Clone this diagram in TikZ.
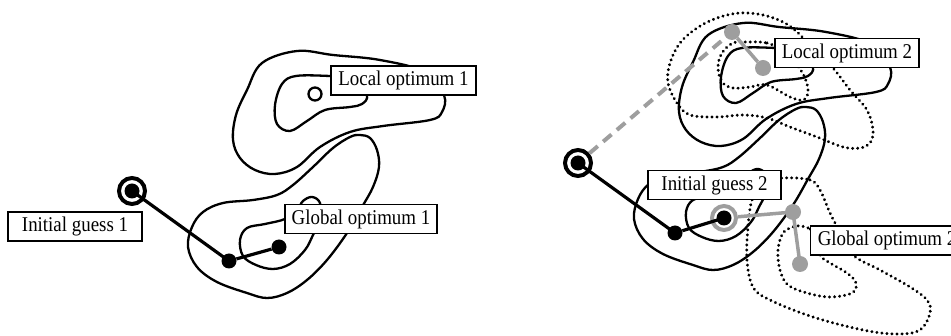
\documentclass[tikz,border=0pt]{standalone}
\usepackage{fontspec}
\setmainfont{Liberation Serif}[FakeStretch=0.9]
\definecolor{lg}{RGB}{158,158,158}
\begin{document}
\begin{tikzpicture}[x=1pt,y=-1pt,
  contour/.style={line width=2.3pt, line join=round},
  dotc/.style={line width=3.2pt, line cap=round, dash pattern=on 0.05pt off 5pt},
  lbl/.style={draw, line width=1.1pt, fill=white, inner sep=0pt, minimum height=29pt, font=\fontsize{21}{24}\selectfont},
  bdot/.style={circle, fill=black, inner sep=0pt, minimum size=15pt},
  gdot/.style={circle, fill=lg, inner sep=0pt, minimum size=16pt},
  ringb/.style={circle, draw=black, line width=4pt, inner sep=0pt, minimum size=26pt},
  ringg/.style={circle, draw=lg, line width=4pt, inner sep=0pt, minimum size=24pt},
  hollow/.style={circle, draw=black, fill=white, line width=2.3pt, inner sep=0pt, minimum size=13pt},
  conn/.style={line width=3.2pt},
  gconn/.style={line width=3.5pt, draw=lg},
  dconn/.style={line width=4pt, draw=lg, dash pattern=on 11pt off 7pt}
]
\clip (0,0) rectangle (951,336);
\useasboundingbox (0,0) rectangle (951,336);

% ---------- solid contours (left, then shifted copy on the right)
\foreach \sx/\sy in {0/0, 446/-28}{
\begin{scope}[shift={(\sx,\sy)}]
\draw[contour] plot[smooth cycle, tension=0.6] coordinates {
 (297,51) (333,55) (380,60) (425,72) (444,95) (442,112) (430,120) (383,126)
 (350,132) (320,147) (297,167) (275,174) (255,170) (240,158) (233,140)
 (236,115) (247,90) (262,63)};
\draw[contour] plot[smooth cycle, tension=0.6] coordinates {
 (330,76) (296,76) (282,84) (275,105) (277,124) (290,131) (307,121) (325,110)
 (350,107) (362,104) (367,95) (355,78)};
\draw[contour] plot[smooth cycle, tension=0.6] coordinates {
 (360,135) (370,138) (377,150) (379,167) (373,187) (362,207) (347,233)
 (327,260) (307,280) (287,293) (267,298) (247,293) (217,282) (197,267)
 (188,247) (192,227) (203,212) (223,203) (253,200) (277,195) (293,185)
 (313,167) (333,148) (350,137)};
\draw[contour] plot[smooth cycle, tension=0.6] coordinates {
 (303,201) (312,197) (320,203) (320,220) (313,235) (305,250) (290,264)
 (273,269) (256,265) (243,256) (240,240) (247,228) (265,224) (285,219) (297,210)};
\end{scope}}

% ---------- dotted contours (right)
\draw[dotc] plot[smooth cycle, tension=0.6] coordinates {
 (740,13) (763,15) (783,22) (797,32) (815,50) (833,68) (850,90) (867,110)
 (873,130) (870,143) (860,148) (843,147) (817,137) (790,127) (767,118)
 (743,115) (717,117) (690,115) (677,103) (668,83) (670,63) (680,43) (697,28) (717,18)};
\draw[dotc] plot[smooth cycle, tension=0.6] coordinates {
 (747,42) (767,43) (785,52) (797,65) (805,78) (808,92) (803,100) (790,97)
 (767,85) (750,87) (733,88) (722,82) (718,67) (722,53) (733,43)};
\draw[dotc] plot[smooth cycle, tension=0.6] coordinates {
 (783,178) (810,180) (820,190) (830,213) (840,232) (853,255) (880,270)
 (910,287) (927,300) (930,313) (920,330) (897,334) (863,330) (813,317)
 (770,300) (753,287) (747,260) (748,227) (752,200) (762,183)};
\draw[dotc] plot[smooth cycle, tension=0.6] coordinates {
 (800,226) (810,229) (820,240) (820,255) (830,263) (847,273) (856,283)
 (852,293) (830,297) (807,293) (788,285) (780,270) (778,250) (783,233) (793,227)};

% ---------- left panel points
\node[ringb] (i1) at (132,191) {};
\node[bdot] (i1c) at (132,191) {};
\node[bdot] (d1) at (229,261) {};
\node[bdot] (d2) at (279,247) {};
\node[hollow] (lo1) at (315,94) {};
\draw[conn] (i1c.center) -- (d1.center);
\draw[conn] (d1) -- (d2);

% ---------- right panel points
\node[ringb] (i2) at (578,163) {};
\node[bdot] (i2c) at (578,163) {};
\node[bdot] (d3) at (675,233) {};
\node[ringg] (gr) at (724,218) {};
\node[bdot] (d4) at (724,218) {};
\node[gdot] (g1) at (793,212) {};
\node[gdot] (g2) at (800,264) {};
\node[gdot] (g3) at (732,32) {};
\node[gdot] (g4) at (763,68) {};
\draw[dconn] (i2) -- (g3);
\draw[gconn] (g3) -- (g4);
\draw[gconn] (gr) -- (g1.center);
\draw[gconn] (g1.center) -- (g2.center);
\draw[conn] (i2c.center) -- (d3.center);
\draw[conn] (d3) -- (d4.center);

% ---------- labels
\node[lbl, minimum width=134pt] (t1) at (75,226.5) {Initial guess 1};
\node[lbl, minimum width=152pt] (t2) at (361,219) {Global optimum 1};
\node[lbl, minimum width=145pt] (t3) at (403.5,80.5) {Local optimum 1};
\node[lbl, minimum width=144pt] (t4) at (847,53) {Local optimum 2};
\node[lbl, minimum width=133pt] (t5) at (714.5,185) {Initial guess 2};
\node[lbl, minimum width=153pt, anchor=west] (t6) at (810,240.5) {Global optimum 2};
\end{tikzpicture}
\end{document}
